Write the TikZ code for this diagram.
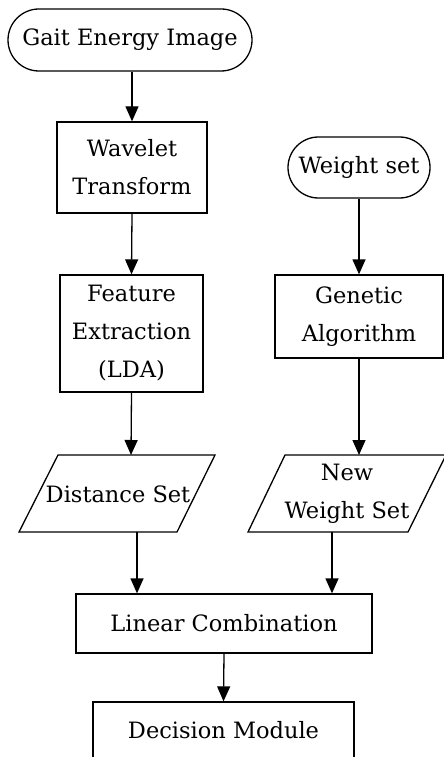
\documentclass[tikz,border=0pt]{standalone}
\usepackage{fontspec}
\setmainfont{DejaVu Serif}
\usetikzlibrary{shapes.misc,arrows.meta}
\newcommand\fs{\fontsize{22.5}{38}\selectfont}
\begin{document}
\begin{tikzpicture}[x=1pt,y=-1pt,
  box/.style={draw,line width=1.3pt,rectangle,align=center,inner sep=0pt,font=\fs},
  term/.style={draw,line width=1.3pt,rounded rectangle,align=center,inner sep=0pt,font=\fs},
  para/.style={draw,line width=1.3pt,line join=miter},
  lbl/.style={align=center,inner sep=0pt,font=\fs},
  arr/.style={line width=1.3pt,-{Triangle[length=15pt,width=13pt]}},
]
\useasboundingbox (0,0) rectangle (444,757);
\clip (0,0) rectangle (444,757);
\node[term,minimum width=244pt,minimum height=62pt] (gei) at (130,40) {Gait Energy Image};
\node[box,minimum width=150pt,minimum height=91pt] (wt) at (132,167.5) {Wavelet\\Transform};
\node[term,minimum width=142pt,minimum height=61pt] (ws) at (359,167.5) {Weight set};
\node[box,minimum width=143pt,minimum height=117pt] (fe) at (131.5,333.5) {Feature\\Extraction\\(LDA)};
\node[box,minimum width=168pt,minimum height=83pt] (ga) at (359,316.5) {Genetic\\Algorithm};
\draw[para] (58,455) -- (215,455) -- (177,532) -- (19,532) -- cycle;
\node[lbl] (ds) at (118,494) {Distance Set};
\draw[para] (285,455) -- (446,455) -- (408,532) -- (248,532) -- cycle;
\node[lbl] (nws) at (347,494) {New\\Weight Set};
\node[box,minimum width=296pt,minimum height=59pt] (lc) at (224,623.5) {Linear Combination};
\node[box,minimum width=261pt,minimum height=56pt] (dm) at (223.5,730) {Decision Module};
\coordinate (dsT) at (131,455);
\coordinate (nwsT) at (359,455);
\coordinate (dsB) at (137,532);
\coordinate (nwsB) at (332,532);
\draw[arr] (wt.north |- gei.south) -- (wt.north);
\draw[arr] (wt.south) -- (fe.north);
\draw[arr] (ws.south) -- (ga.north);
\draw[arr] (fe.south) -- (dsT);
\draw[arr] (ga.south) -- (nwsT);
\draw[arr] (dsB) -- (lc.north -| dsB);
\draw[arr] (nwsB) -- (lc.north -| nwsB);
\draw[arr] (lc.south) -- (dm.north);
\end{tikzpicture}
\end{document}
